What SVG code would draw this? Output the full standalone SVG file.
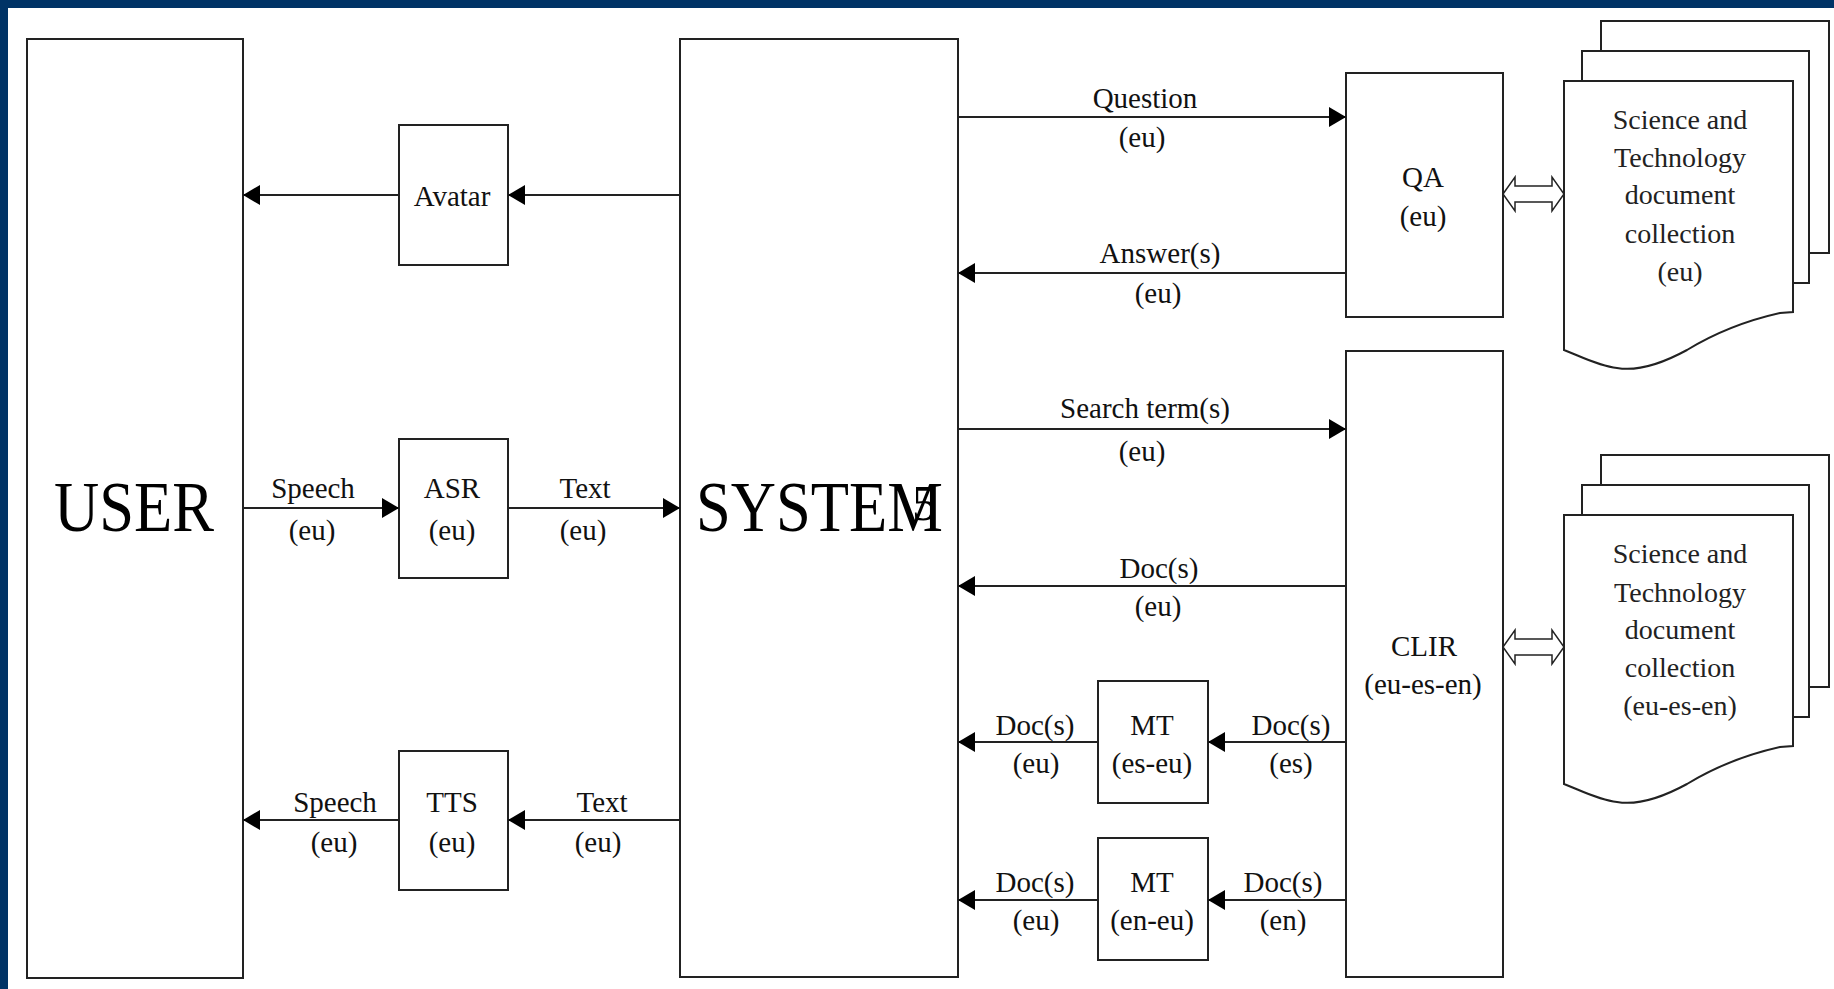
<svg xmlns="http://www.w3.org/2000/svg" width="1834" height="989" viewBox="0 0 1834 989">
<style>
.box{fill:#fff;stroke:#222;stroke-width:2}
.ln{stroke:#222;stroke-width:2;fill:none}
.t{font-family:"Liberation Serif","Times New Roman",serif;font-size:29px;fill:#111;text-anchor:middle}
.big{font-family:"Liberation Serif","Times New Roman",serif;font-size:71px;fill:#000}
.d{font-family:"Liberation Serif","Times New Roman",serif;font-size:28px;fill:#222;text-anchor:middle}
.dbl{fill:#fff;stroke:#222;stroke-width:1.5}
</style>
<defs>
<marker id="ah" markerUnits="userSpaceOnUse" markerWidth="18" markerHeight="20" refX="17" refY="10" orient="auto">
<path d="M0,0 L17,10 L0,20 Z" fill="#000"/>
</marker>
</defs>
<rect x="0" y="0" width="1834" height="989" fill="#fff"/>
<rect x="0" y="0" width="1834" height="8" fill="#003366"/>
<rect x="0" y="0" width="8" height="989" fill="#003366"/>

<g id="user">
<rect class="box" x="27" y="39" width="216" height="939"/>
<text class="big" x="54" y="531" textLength="160" lengthAdjust="spacingAndGlyphs">USER</text>
</g>
<g id="system">
<rect class="box" x="680" y="39" width="278" height="938"/>
<text class="big" x="696" y="531" textLength="247" lengthAdjust="spacingAndGlyphs">SYSTEM</text>
<text x="912" y="520" style="font-family:'Liberation Serif',serif;font-size:50px;fill:#000">5</text>
</g>
<g id="avatar">
<rect class="box" x="399" y="125" width="109" height="140"/>
<text class="t" x="452" y="206">Avatar</text>
</g>
<g id="asr">
<rect class="box" x="399" y="439" width="109" height="139"/>
<text class="t" x="452" y="498">ASR</text>
<text class="t" x="452" y="540">(eu)</text>
</g>
<g id="tts">
<rect class="box" x="399" y="751" width="109" height="139"/>
<text class="t" x="452" y="812">TTS</text>
<text class="t" x="452" y="852">(eu)</text>
</g>
<g id="qa">
<rect class="box" x="1346" y="73" width="157" height="244"/>
<text class="t" x="1423" y="187">QA</text>
<text class="t" x="1423" y="226">(eu)</text>
</g>
<g id="clir">
<rect class="box" x="1346" y="351" width="157" height="626"/>
<text class="t" x="1424" y="656">CLIR</text>
<text class="t" x="1423" y="694">(eu-es-en)</text>
</g>
<g id="mt1">
<rect class="box" x="1098" y="681" width="110" height="122"/>
<text class="t" x="1152" y="735">MT</text>
<text class="t" x="1152" y="773">(es-eu)</text>
</g>
<g id="mt2">
<rect class="box" x="1098" y="838" width="110" height="122"/>
<text class="t" x="1152" y="892">MT</text>
<text class="t" x="1152" y="930">(en-eu)</text>
</g>

<g id="collection1">
<rect class="box" x="1601" y="21" width="228" height="232"/>
<rect class="box" x="1582" y="51" width="227" height="232"/>
<path class="box" d="M1564,81 L1793,81 L1793,312 L1780,313 C1740,322 1710,336 1687,350 C1665,362 1640,372 1617,368 C1598,366 1580,356 1564,350 Z"/>
<text class="d" x="1680" y="129">Science and</text>
<text class="d" x="1680" y="167">Technology</text>
<text class="d" x="1680" y="204">document</text>
<text class="d" x="1680" y="243">collection</text>
<text class="d" x="1680" y="281">(eu)</text>
</g>
<g id="collection2">
<rect class="box" x="1601" y="455" width="228" height="232"/>
<rect class="box" x="1582" y="485" width="227" height="232"/>
<path class="box" d="M1564,515 L1793,515 L1793,746 L1780,747 C1740,756 1710,770 1687,784 C1665,796 1640,806 1617,802 C1598,800 1580,790 1564,784 Z"/>
<text class="d" x="1680" y="563">Science and</text>
<text class="d" x="1680" y="602">Technology</text>
<text class="d" x="1680" y="639">document</text>
<text class="d" x="1680" y="677">collection</text>
<text class="d" x="1680" y="715">(eu-es-en)</text>
</g>

<g id="connectors">
<line class="ln" x1="680" y1="195" x2="508" y2="195" marker-end="url(#ah)"/>
<line class="ln" x1="399" y1="195" x2="243" y2="195" marker-end="url(#ah)"/>
<line class="ln" x1="243" y1="508" x2="399" y2="508" marker-end="url(#ah)"/>
<line class="ln" x1="508" y1="508" x2="680" y2="508" marker-end="url(#ah)"/>
<line class="ln" x1="680" y1="820" x2="508" y2="820" marker-end="url(#ah)"/>
<line class="ln" x1="399" y1="820" x2="243" y2="820" marker-end="url(#ah)"/>
<line class="ln" x1="958" y1="117" x2="1346" y2="117" marker-end="url(#ah)"/>
<line class="ln" x1="1346" y1="273" x2="958" y2="273" marker-end="url(#ah)"/>
<line class="ln" x1="958" y1="429" x2="1346" y2="429" marker-end="url(#ah)"/>
<line class="ln" x1="1346" y1="586" x2="958" y2="586" marker-end="url(#ah)"/>
<line class="ln" x1="1346" y1="742" x2="1208" y2="742" marker-end="url(#ah)"/>
<line class="ln" x1="1098" y1="742" x2="958" y2="742" marker-end="url(#ah)"/>
<line class="ln" x1="1346" y1="900" x2="1208" y2="900" marker-end="url(#ah)"/>
<line class="ln" x1="1098" y1="900" x2="958" y2="900" marker-end="url(#ah)"/>
<polygon class="dbl" points="1503,194 1515,177 1515,186 1552,186 1552,177 1564,194 1552,211 1552,202 1515,202 1515,211"/>
<polygon class="dbl" points="1503,647 1515,630 1515,639 1552,639 1552,630 1564,647 1552,664 1552,655 1515,655 1515,664"/>
<text class="t" x="313" y="498">Speech</text>
<text class="t" x="312" y="540">(eu)</text>
<text class="t" x="585" y="498">Text</text>
<text class="t" x="583" y="540">(eu)</text>
<text class="t" x="335" y="812">Speech</text>
<text class="t" x="334" y="852">(eu)</text>
<text class="t" x="602" y="812">Text</text>
<text class="t" x="598" y="852">(eu)</text>
<text class="t" x="1145" y="108">Question</text>
<text class="t" x="1142" y="147">(eu)</text>
<text class="t" x="1160" y="263">Answer(s)</text>
<text class="t" x="1158" y="303">(eu)</text>
<text class="t" x="1145" y="418">Search term(s)</text>
<text class="t" x="1142" y="461">(eu)</text>
<text class="t" x="1159" y="578">Doc(s)</text>
<text class="t" x="1158" y="616">(eu)</text>
<text class="t" x="1035" y="735">Doc(s)</text>
<text class="t" x="1036" y="773">(eu)</text>
<text class="t" x="1291" y="735">Doc(s)</text>
<text class="t" x="1291" y="773">(es)</text>
<text class="t" x="1035" y="892">Doc(s)</text>
<text class="t" x="1036" y="930">(eu)</text>
<text class="t" x="1283" y="892">Doc(s)</text>
<text class="t" x="1283" y="930">(en)</text>
</g>
</svg>
